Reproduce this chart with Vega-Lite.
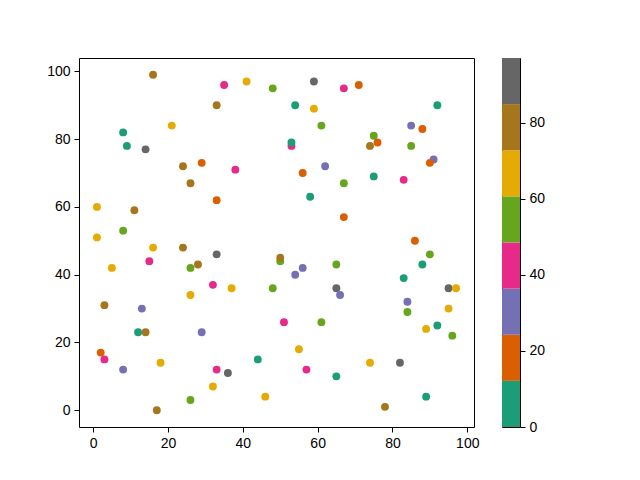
{
  "$schema": "https://vega.github.io/schema/vega-lite/v6.json",
  "padding": {"left": 46, "top": 57, "right": 5, "bottom": 5},
  "spacing": 21,
  "datasets": {
    "points": [
      {"x": 16, "y": 99, "c": 78}, {"x": 35, "y": 96, "c": 42}, {"x": 41, "y": 97, "c": 66},
      {"x": 48, "y": 95, "c": 54}, {"x": 33, "y": 90, "c": 78}, {"x": 21, "y": 84, "c": 66},
      {"x": 8, "y": 82, "c": 6}, {"x": 9, "y": 78, "c": 6}, {"x": 14, "y": 77, "c": 90},
      {"x": 24, "y": 72, "c": 78}, {"x": 29, "y": 73, "c": 18}, {"x": 38, "y": 71, "c": 42},
      {"x": 26, "y": 67, "c": 78}, {"x": 33, "y": 62, "c": 18}, {"x": 1, "y": 60, "c": 66},
      {"x": 11, "y": 59, "c": 78}, {"x": 8, "y": 53, "c": 54}, {"x": 1, "y": 51, "c": 66},
      {"x": 16, "y": 48, "c": 66}, {"x": 24, "y": 48, "c": 78}, {"x": 59, "y": 97, "c": 90},
      {"x": 67, "y": 95, "c": 42}, {"x": 71, "y": 96, "c": 18}, {"x": 54, "y": 90, "c": 6},
      {"x": 59, "y": 89, "c": 66}, {"x": 92, "y": 90, "c": 6}, {"x": 61, "y": 84, "c": 54},
      {"x": 85, "y": 84, "c": 30}, {"x": 88, "y": 83, "c": 18}, {"x": 75, "y": 81, "c": 54},
      {"x": 53, "y": 78, "c": 42}, {"x": 53, "y": 79, "c": 6}, {"x": 74, "y": 78, "c": 78},
      {"x": 76, "y": 79, "c": 18}, {"x": 85, "y": 78, "c": 54}, {"x": 91, "y": 74, "c": 30},
      {"x": 90, "y": 73, "c": 18}, {"x": 62, "y": 72, "c": 30}, {"x": 56, "y": 70, "c": 18},
      {"x": 67, "y": 67, "c": 54}, {"x": 75, "y": 69, "c": 6}, {"x": 83, "y": 68, "c": 42},
      {"x": 58, "y": 63, "c": 6}, {"x": 67, "y": 57, "c": 18}, {"x": 86, "y": 50, "c": 18},
      {"x": 33, "y": 46, "c": 90}, {"x": 50, "y": 44, "c": 54}, {"x": 50, "y": 45, "c": 78},
      {"x": 5, "y": 42, "c": 66}, {"x": 15, "y": 44, "c": 42}, {"x": 26, "y": 42, "c": 54},
      {"x": 28, "y": 43, "c": 78}, {"x": 32, "y": 37, "c": 42}, {"x": 37, "y": 36, "c": 66},
      {"x": 48, "y": 36, "c": 54}, {"x": 26, "y": 34, "c": 66}, {"x": 3, "y": 31, "c": 78},
      {"x": 13, "y": 30, "c": 30}, {"x": 12, "y": 23, "c": 6}, {"x": 14, "y": 23, "c": 78},
      {"x": 29, "y": 23, "c": 30}, {"x": 2, "y": 17, "c": 18}, {"x": 3, "y": 15, "c": 42},
      {"x": 8, "y": 12, "c": 30}, {"x": 18, "y": 14, "c": 66}, {"x": 33, "y": 12, "c": 42},
      {"x": 36, "y": 11, "c": 90}, {"x": 44, "y": 15, "c": 6}, {"x": 32, "y": 7, "c": 66},
      {"x": 46, "y": 4, "c": 66}, {"x": 26, "y": 3, "c": 54}, {"x": 17, "y": 0, "c": 78},
      {"x": 90, "y": 46, "c": 54}, {"x": 88, "y": 43, "c": 6}, {"x": 65, "y": 43, "c": 54},
      {"x": 56, "y": 42, "c": 30}, {"x": 54, "y": 40, "c": 30}, {"x": 83, "y": 39, "c": 6},
      {"x": 65, "y": 36, "c": 90}, {"x": 66, "y": 34, "c": 30}, {"x": 95, "y": 36, "c": 90},
      {"x": 97, "y": 36, "c": 66}, {"x": 84, "y": 32, "c": 30}, {"x": 84, "y": 29, "c": 54},
      {"x": 95, "y": 30, "c": 66}, {"x": 51, "y": 26, "c": 42}, {"x": 61, "y": 26, "c": 54},
      {"x": 92, "y": 25, "c": 6}, {"x": 89, "y": 24, "c": 66}, {"x": 96, "y": 22, "c": 54},
      {"x": 55, "y": 18, "c": 66}, {"x": 74, "y": 14, "c": 66}, {"x": 82, "y": 14, "c": 90},
      {"x": 57, "y": 12, "c": 42}, {"x": 65, "y": 10, "c": 6}, {"x": 89, "y": 4, "c": 6},
      {"x": 78, "y": 1, "c": 78}
    ],
    "bins": [
      {"lo": 0, "hi": 12.125, "c": 6},
      {"lo": 12.125, "hi": 24.25, "c": 18},
      {"lo": 24.25, "hi": 36.375, "c": 30},
      {"lo": 36.375, "hi": 48.5, "c": 42},
      {"lo": 48.5, "hi": 60.625, "c": 54},
      {"lo": 60.625, "hi": 72.75, "c": 66},
      {"lo": 72.75, "hi": 84.875, "c": 78},
      {"lo": 84.875, "hi": 97, "c": 90}
    ]
  },
  "hconcat": [
    {
      "width": 395,
      "height": 369,
      "data": {"name": "points"},
      "mark": {"type": "point", "shape": "circle", "filled": true, "size": 62, "opacity": 1, "strokeWidth": 0},
      "encoding": {
        "x": {
          "field": "x",
          "type": "quantitative",
          "title": null,
          "scale": {"domain": [-3.8, 101.8], "nice": false, "zero": false},
          "axis": {"values": [0, 20, 40, 60, 80, 100]}
        },
        "y": {
          "field": "y",
          "type": "quantitative",
          "title": null,
          "scale": {"domain": [-4.95, 103.95], "nice": false, "zero": false},
          "axis": {"values": [0, 20, 40, 60, 80, 100]}
        },
        "color": {
          "field": "c",
          "type": "quantitative",
          "scale": {
            "type": "quantize",
            "domain": [0, 97],
            "nice": false,
            "range": ["#1b9e77", "#d95f02", "#7570b3", "#e7298a", "#66a61e", "#e6ab02", "#a6761d", "#666666"]
          },
          "legend": null
        }
      }
    },
    {
      "width": 18,
      "height": 369,
      "data": {"name": "bins"},
      "mark": {"type": "rect"},
      "encoding": {
        "y": {
          "field": "lo",
          "type": "quantitative",
          "title": null,
          "scale": {"domain": [0, 97], "nice": false, "zero": false},
          "axis": {"orient": "right", "values": [0, 20, 40, 60, 80]}
        },
        "y2": {"field": "hi"},
        "color": {
          "field": "c",
          "type": "quantitative",
          "scale": {
            "type": "quantize",
            "domain": [0, 97],
            "nice": false,
            "range": ["#1b9e77", "#d95f02", "#7570b3", "#e7298a", "#66a61e", "#e6ab02", "#a6761d", "#666666"]
          },
          "legend": null
        }
      }
    }
  ],
  "config": {
    "view": {"stroke": "#000", "strokeWidth": 1},
    "axis": {
      "grid": false,
      "domain": false,
      "tickColor": "#000",
      "tickSize": 5,
      "tickWidth": 1,
      "labelPadding": 4,
      "labelFont": "Liberation Sans",
      "labelFontSize": 14,
      "labelColor": "#000"
    }
  }
}
